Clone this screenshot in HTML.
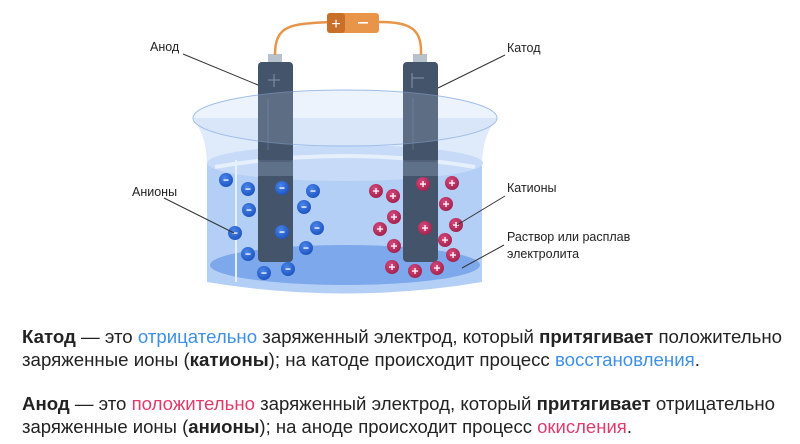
<!DOCTYPE html>
<html><head><meta charset="utf-8"><style>
html,body{margin:0;padding:0;background:#fff;width:800px;height:444px;overflow:hidden}
svg{display:block}
text{font-family:"Liberation Sans Narrow","Liberation Sans","Noto Sans CJK SC",sans-serif}
.l{font-family:"Liberation Sans","Noto Sans CJK SC",sans-serif;font-size:12.5px;fill:#222}
.t{font-size:18px;fill:#222}
.b{font-weight:bold}
.bl{fill:#3e8fe6}
.rd{fill:#e03a6a}
</style></head><body>
<svg width="800" height="444" viewBox="0 0 800 444">
<defs>
<radialGradient id="gb" cx="40%" cy="35%" r="65%"><stop offset="0" stop-color="#4a86e8"/><stop offset="1" stop-color="#1f55c2"/></radialGradient>
<radialGradient id="gp" cx="40%" cy="35%" r="65%"><stop offset="0" stop-color="#d7487e"/><stop offset="1" stop-color="#a3244f"/></radialGradient>
<g id="bi"><circle r="7" fill="url(#gb)"/><rect x="-2.5" y="-0.6" width="5" height="1.3" fill="#fff"/></g>
<g id="pi"><circle r="7" fill="url(#gp)"/><rect x="-3" y="-0.6" width="6" height="1.3" fill="#fff"/><rect x="-0.6" y="-3" width="1.3" height="6" fill="#fff"/></g>
</defs>
<path d="M193 118 C205 135 207 150 207 170 L207 282 Q345 305 482 282 L482 170 C482 150 484 135 497 118 Z" fill="#dbe8fb" opacity="0.9"/>
<path d="M207 163 Q345 140 482 163 L482 282 Q345 305 207 282 Z" fill="#b4cff5"/>
<ellipse cx="345" cy="265" rx="135" ry="20" fill="#7ea8ec"/>
<ellipse cx="345" cy="163" rx="138" ry="18" fill="#c7dbf8"/>
<path d="M215 167 Q345 145 475 167" fill="none" stroke="#e6effc" stroke-width="4"/>
<line x1="236" y1="160" x2="236" y2="282" stroke="#e6effc" stroke-width="2"/>
<rect x="268" y="54" width="14" height="10" fill="#b7c2cc"/>
<rect x="413" y="54" width="14" height="10" fill="#b7c2cc"/>
<path d="M275 55 C275 25 290 24 330 22 M378 22 C410 22 422 28 421 55" fill="none" stroke="#e8954a" stroke-width="2.5"/>
<rect x="327" y="13" width="52" height="20" rx="3" fill="#e8954a"/>
<rect x="327" y="13" width="18" height="20" rx="3" fill="#c8702a"/>
<text x="336" y="29" fill="#fff" font-size="16" text-anchor="middle">+</text>
<rect x="358" y="22" width="10" height="1.6" fill="#fff"/>
<rect x="258" y="62" width="35" height="200" rx="4" fill="#44546b"/>
<rect x="403" y="62" width="35" height="200" rx="4" fill="#44546b"/>
<rect x="258" y="160" width="35" height="16" fill="#6b7d96" opacity="0.7"/>
<rect x="403" y="160" width="35" height="16" fill="#6b7d96" opacity="0.7"/>
<path d="M268 80 H280 M274 74 V87" stroke="#b9c6d6" stroke-width="1.3"/>
<path d="M412 78 H424 M412 73 V88" stroke="#b9c6d6" stroke-width="1.3"/>
<line x1="268" y1="98" x2="268" y2="150" stroke="#6b7d96" stroke-width="1.5"/>
<line x1="413" y1="98" x2="413" y2="150" stroke="#6b7d96" stroke-width="1.5"/>
<ellipse cx="345" cy="118" rx="152" ry="28" fill="#cfe0f8" fill-opacity="0.4" stroke="#9fbde8" stroke-width="1"/>
<rect x="258" y="62" width="35" height="100" rx="4" fill="#44546b" opacity="0.55"/>
<rect x="403" y="62" width="35" height="100" rx="4" fill="#44546b" opacity="0.55"/>
<use href="#bi" x="226" y="180"/><use href="#bi" x="248" y="189"/><use href="#bi" x="282" y="188"/><use href="#bi" x="313" y="191"/>
<use href="#bi" x="249" y="210"/><use href="#bi" x="304" y="207"/><use href="#bi" x="282" y="232"/><use href="#bi" x="317" y="228"/>
<use href="#bi" x="235" y="233"/><use href="#bi" x="306" y="248"/><use href="#bi" x="248" y="254"/><use href="#bi" x="264" y="273"/><use href="#bi" x="288" y="269"/>
<use href="#pi" x="376" y="191"/><use href="#pi" x="393" y="196"/><use href="#pi" x="423" y="184"/><use href="#pi" x="452" y="183"/>
<use href="#pi" x="446" y="204"/><use href="#pi" x="394" y="217"/><use href="#pi" x="380" y="229"/><use href="#pi" x="425" y="228"/>
<use href="#pi" x="456" y="225"/><use href="#pi" x="445" y="240"/><use href="#pi" x="394" y="246"/><use href="#pi" x="453" y="255"/>
<use href="#pi" x="392" y="267"/><use href="#pi" x="415" y="271"/><use href="#pi" x="437" y="268"/>
<g stroke="#333" stroke-width="1" fill="none">
<path d="M183 54 L258 85"/><path d="M505 55 L438 88"/><path d="M164 198 L234 233"/>
<path d="M505 196 L457 225"/><path d="M504 245 L462 268"/>
</g>
<text class="l" x="150" y="51">Анод</text>
<text class="l" x="507" y="52">Катод</text>
<text class="l" x="132" y="196">Анионы</text>
<text class="l" x="507" y="192">Катионы</text>
<text class="l" x="507" y="241">Раствор или расплав</text>
<text class="l" x="507" y="258">электролита</text>
<text class="t" x="22" y="343" textLength="760" lengthAdjust="spacingAndGlyphs"><tspan class="b">Катод</tspan> — это <tspan class="bl">отрицательно</tspan> заряженный электрод, который <tspan class="b">притягивает</tspan> положительно</text>
<text class="t" x="22" y="366" textLength="678" lengthAdjust="spacingAndGlyphs">заряженные ионы (<tspan class="b">катионы</tspan>); на катоде происходит процесс <tspan class="bl">восстановления</tspan>.</text>
<text class="t" x="22" y="410" textLength="753" lengthAdjust="spacingAndGlyphs"><tspan class="b">Анод</tspan> — это <tspan class="rd">положительно</tspan> заряженный электрод, который <tspan class="b">притягивает</tspan> отрицательно</text>
<text class="t" x="22" y="433" textLength="610" lengthAdjust="spacingAndGlyphs">заряженные ионы (<tspan class="b">анионы</tspan>); на аноде происходит процесс <tspan class="rd">окисления</tspan>.</text>
</svg>
</body></html>
